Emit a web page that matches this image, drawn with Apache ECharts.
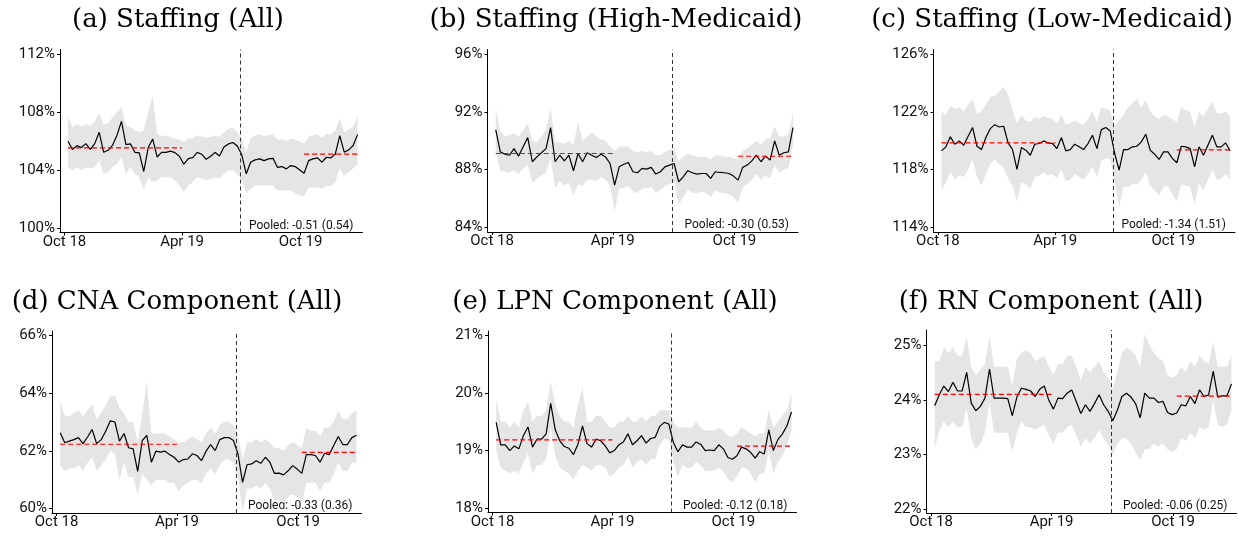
<!DOCTYPE html>
<html>
  <head>
    <meta charset="utf-8" />
    <script src="https://cdn.jsdelivr.net/npm/echarts@6/dist/echarts.min.js"></script>
  </head>
  <body style="margin: 0; background: #fff">
    <div id="container" style="width: 1239px; height: 536px"></div>
    <script type="text/javascript">
      // x axis in weeks since the first observation
      var tickPos = [-0.8, 25.6, 52.2];
      var tickLabels = ["Oct 18", "Apr 19", "Oct 19"];
      var policyWeek = 38.6;
      var preSpan = [0, 25.6];
      var postSpan = [53, 65];
      var weekIdx = [];
      for (var w = 0; w < 66; w++) weekIdx.push(w);

      var titles = [
        "(a) Staffing (All)",
        "(b) Staffing (High-Medicaid)",
        "(c) Staffing (Low-Medicaid)",
        "(d) CNA Component (All)",
        "(e) LPN Component (All)",
        "(f) RN Component (All)",
      ];
      var pooledLabels = [
        "Pooled: -0.51 (0.54)",
        "Pooled: -0.30 (0.53)",
        "Pooled: -1.34 (1.51)",
        "Pooled: -0.33 (0.36)",
        "Pooled: -0.12 (0.18)",
        "Pooled: -0.06 (0.25)",
      ];
      var preMean = [105.53, 89.12, 119.85, 62.23, 19.185, 24.1];
      var postMean = [105.09, 88.93, 119.37, 61.95, 19.076, 24.067];
      var yMin = [99.7, 83.7, 113.7, 59.85, 17.925, 21.94];
      var yMax = [112.3, 96.3, 126.3, 66.15, 21.075, 25.27];
      var yTicks = [
        [100, 104, 108, 112],
        [84, 88, 92, 96],
        [114, 118, 122, 126],
        [60, 62, 64, 66],
        [18, 19, 20, 21],
        [22, 23, 24, 25],
      ];

      // (a) Staffing (All)
      var staffAllEst = [105.98,105.41,105.68,105.55,105.82,105.43,105.82,106.6,105.22,105.36,105.71,106.4,107.36,105.75,105.8,105.22,105.18,103.9,105.55,106.14,104.9,105.22,105.22,105.3,105.2,104.95,104.4,104.79,104.86,105.22,105.09,104.74,104.95,105.22,104.97,105.59,105.8,105.9,105.65,105.05,103.74,104.54,104.7,104.77,104.65,104.77,104.81,104.19,104.24,104.08,104.31,104.24,104.01,103.78,104.65,104.77,104.84,104.54,104.88,104.84,105.11,106.37,105.23,105.39,105.69,106.44];
      var staffAllHi = [107.69,106.95,107.14,107.0,107.14,107.07,107.3,107.92,107.14,107.23,107.64,107.99,108.3,107.07,106.95,106.72,106.6,106.72,108.0,109.1,106.5,106.3,106.4,106.27,106.15,106.08,105.92,106.15,106.2,106.38,106.3,106.2,106.27,106.38,106.27,106.6,106.84,106.9,106.6,106.1,105.23,106.2,106.4,106.45,106.35,106.4,106.45,106.1,106.1,106.0,106.15,106.1,105.95,105.85,106.3,106.4,106.45,106.2,106.5,106.45,106.7,107.55,106.6,106.8,107.0,107.7];
      var staffAllLo = [104.2,103.97,104.2,104.0,104.2,104.1,104.2,104.66,103.74,103.86,104.2,104.43,104.9,103.74,104.2,103.74,103.5,102.64,103.5,103.2,103.28,103.5,103.5,103.5,103.28,102.94,102.48,102.94,103.17,103.5,103.4,103.28,103.4,103.5,103.4,103.74,103.97,103.97,103.75,103.3,102.37,102.7,102.94,102.94,102.94,102.94,102.94,102.6,102.6,102.6,102.6,102.4,102.25,102.2,102.8,102.8,102.8,102.7,102.9,102.9,103.17,104.1,103.63,103.86,104.1,104.43];

      // (b) Staffing (High-Medicaid)
      var staffHighEst = [90.77,89.23,89.07,89.0,89.46,88.94,89.58,90.22,88.55,88.89,89.17,89.46,90.91,88.55,89.0,88.61,89.0,87.93,89.12,88.55,89.17,89.0,88.84,89.07,88.89,88.43,86.94,88.2,88.38,88.5,87.86,87.79,88.09,88.04,88.16,87.7,87.86,88.2,88.32,88.43,87.17,87.51,87.93,87.79,87.7,87.74,87.74,87.4,87.86,87.81,87.79,87.74,87.56,87.28,88.16,88.32,88.61,89.0,88.55,88.94,88.66,89.99,89.0,89.17,89.23,90.91];
      var staffHighHi = [92.2,90.7,90.3,90.4,90.5,90.3,90.7,91.2,90.0,89.9,90.3,90.8,92.3,89.9,89.9,89.8,90.0,89.7,91.3,90.0,90.3,90.6,90.3,90.1,90.0,89.6,89.3,89.6,89.6,89.6,89.3,89.2,89.3,89.2,89.3,89.0,89.0,89.2,89.4,89.5,88.6,88.9,89.1,89.0,88.9,88.9,88.9,88.7,89.0,89.0,88.9,88.9,88.8,88.7,89.3,89.5,89.7,90.0,89.7,90.1,90.2,91.0,90.3,90.3,90.4,92.0];
      var staffHighLo = [89.3,87.9,87.9,87.8,88.0,87.7,88.1,88.3,87.1,87.4,87.6,87.8,88.8,86.7,87.2,86.9,87.1,86.2,87.0,86.9,87.3,87.3,87.2,87.5,87.3,86.9,85.1,86.7,86.7,86.9,86.5,86.4,86.7,86.7,86.8,86.4,86.6,86.9,87.0,87.2,85.6,86.1,86.6,86.4,86.4,86.5,86.4,86.1,86.6,86.4,86.4,86.3,86.1,85.7,86.8,87.0,87.3,87.7,87.3,87.6,87.4,88.3,87.8,88.0,88.1,89.7];

      // (c) Staffing (Low-Medicaid)
      var staffLowEst = [119.3,119.58,120.27,119.76,119.99,119.69,120.31,120.91,119.62,119.39,120.22,120.84,121.11,120.95,121.0,119.85,119.39,118.02,119.53,119.35,119.0,119.76,119.81,119.99,119.85,119.81,119.46,120.22,119.3,119.39,119.76,119.58,119.39,119.81,120.38,119.46,120.77,120.91,120.68,119.12,117.97,119.39,119.39,119.58,119.62,119.92,120.45,119.35,119.07,118.71,119.23,119.23,118.78,118.48,119.62,119.58,119.46,118.2,119.58,119.0,119.69,120.38,119.58,119.58,119.85,119.3];
      var staffLowHi = [122.0,121.8,122.4,122.2,122.3,122.0,122.5,122.9,121.9,122.0,122.5,123.0,123.1,123.4,123.7,123.2,122.1,121.2,121.8,121.4,121.3,121.6,121.5,121.7,121.6,121.5,121.2,121.8,121.1,121.2,121.4,121.2,121.1,121.5,122.0,121.3,122.3,122.2,122.1,121.0,121.4,121.8,122.3,122.6,122.9,122.3,122.8,122.0,121.7,121.5,121.8,121.7,121.5,121.3,122.3,122.1,122.0,120.9,122.0,121.7,122.2,122.7,121.9,121.9,122.0,121.7];
      var staffLowLo = [116.6,117.1,117.9,117.3,117.6,117.5,118.0,118.7,117.5,116.9,117.7,118.4,118.7,118.4,118.1,117.4,116.9,115.8,117.1,117.0,116.7,117.5,117.6,117.8,117.6,117.7,117.4,118.0,117.2,117.3,117.7,117.5,117.3,117.7,118.2,117.5,118.6,118.8,118.7,117.2,115.4,116.8,116.8,117.0,117.0,117.3,117.9,116.9,116.6,116.2,116.8,116.9,116.3,115.8,117.0,116.9,116.8,115.6,117.1,116.6,117.3,118.0,117.3,117.4,117.7,117.3];

      // (d) CNA Component (All)
      var cnaEst = [62.63,62.28,62.34,62.39,62.46,62.25,62.48,62.74,62.25,62.39,62.69,63.04,63.0,62.34,62.6,62.11,62.07,61.29,62.36,62.54,61.61,61.99,61.96,61.99,61.87,61.78,61.61,61.7,61.72,61.9,61.84,61.66,61.99,62.22,62.01,62.39,62.46,62.46,62.36,61.9,60.91,61.52,61.55,61.66,61.57,61.78,61.61,61.22,61.23,61.17,61.31,61.49,61.37,61.22,61.87,61.87,61.84,61.61,61.92,61.87,62.19,62.5,62.22,62.22,62.46,62.54];
      var cnaHi = [63.7,63.2,63.2,63.3,63.4,63.2,63.4,63.6,63.1,63.3,63.6,63.9,63.9,63.5,63.3,63.0,63.0,62.3,63.3,64.4,62.6,62.6,62.6,62.6,62.5,62.4,62.3,62.3,62.4,62.5,62.4,62.3,62.6,62.8,62.6,62.9,63.0,63.0,62.9,62.6,61.7,62.3,62.3,62.4,62.3,62.4,62.3,62.1,62.1,62.0,62.2,62.3,62.2,62.1,62.8,62.7,62.7,62.5,62.8,62.8,63.0,63.4,63.1,63.1,63.3,63.4];
      var cnaLo = [61.5,61.3,61.4,61.4,61.5,61.3,61.6,61.8,61.3,61.5,61.7,62.0,61.9,61.0,61.6,61.1,61.1,60.5,61.2,61.0,60.8,61.0,61.0,61.0,60.9,60.9,60.6,60.8,60.9,61.0,61.0,60.9,61.2,61.4,61.2,61.5,61.7,61.7,61.6,61.1,59.9,60.7,60.7,60.8,60.7,60.9,60.7,60.3,60.3,60.2,60.4,60.5,60.4,60.2,60.9,60.9,60.9,60.6,60.9,60.9,61.2,61.6,61.3,61.3,61.6,61.6];

      // (e) LPN Component (All)
      var lpnEst = [19.49,19.1,19.1,19.0,19.08,19.03,19.26,19.41,19.06,19.2,19.2,19.29,19.82,19.36,19.17,19.07,19.04,18.93,19.11,19.43,19.12,19.06,19.2,19.17,19.08,18.96,19.0,19.1,19.15,19.29,19.1,19.17,19.26,19.13,19.21,19.23,19.42,19.49,19.46,19.14,18.98,19.1,19.06,19.06,19.15,19.11,19.0,19.01,19.0,19.1,19.03,18.88,18.85,18.91,19.06,19.03,18.97,18.87,18.98,18.94,19.36,19.0,19.19,19.29,19.43,19.67];
      var lpnHi = [19.9,19.5,19.5,19.4,19.5,19.4,19.7,19.85,19.5,19.6,19.6,19.7,20.2,19.8,19.6,19.5,19.5,19.4,19.8,20.1,19.5,19.5,19.6,19.6,19.5,19.4,19.4,19.5,19.5,19.6,19.5,19.5,19.6,19.5,19.6,19.6,19.7,19.7,19.7,19.5,19.4,19.4,19.4,19.4,19.5,19.4,19.35,19.35,19.35,19.4,19.35,19.25,19.25,19.3,19.4,19.35,19.3,19.25,19.3,19.3,19.7,19.4,19.5,19.6,19.7,20.0];
      var lpnLo = [19.0,18.7,18.65,18.6,18.65,18.6,18.8,18.95,18.6,18.75,18.75,18.85,19.4,18.9,18.7,18.65,18.6,18.5,18.65,18.75,18.7,18.65,18.75,18.75,18.7,18.55,18.6,18.7,18.75,18.9,18.7,18.8,18.85,18.75,18.85,18.85,19.1,19.2,19.2,18.8,18.55,18.75,18.7,18.7,18.8,18.75,18.65,18.65,18.65,18.7,18.65,18.5,18.45,18.55,18.7,18.7,18.6,18.45,18.6,18.6,19.0,18.6,18.8,18.9,19.1,19.35];

      // (f) RN Component (All)
      var rnEst = [23.89,24.09,24.25,24.15,24.32,24.16,24.16,24.5,23.94,23.8,23.88,24.03,24.56,24.03,24.03,24.03,24.02,23.71,24.05,24.21,24.19,24.16,24.06,24.19,24.25,23.99,23.83,24.03,24.02,24.12,24.18,23.97,23.75,23.91,23.79,23.93,24.09,23.91,23.79,23.62,23.81,24.06,24.12,24.05,23.93,23.67,24.12,24.03,24.03,23.95,23.97,23.77,23.73,23.76,23.91,23.89,24.06,23.93,24.18,24.06,24.09,24.52,24.05,24.07,24.07,24.29];
      var rnHi = [24.7,24.7,24.95,24.85,24.95,24.8,24.8,25.15,24.6,24.45,24.55,24.65,25.15,24.6,24.6,24.6,24.6,24.25,24.75,24.85,24.9,24.85,24.7,24.75,24.8,24.6,24.45,24.65,24.65,24.8,24.8,24.6,24.35,24.6,24.5,24.6,24.7,24.5,24.4,24.2,24.5,24.85,24.95,24.9,24.8,24.6,25.2,25.0,24.85,24.75,24.7,24.45,24.4,24.45,24.6,24.5,24.7,24.6,24.8,24.7,24.65,25.05,24.6,24.6,24.6,24.8];
      var rnLo = [23.1,23.45,23.6,23.5,23.6,23.5,23.5,23.85,23.3,23.1,23.2,23.4,23.95,23.4,23.4,23.4,23.4,23.05,23.4,23.6,23.5,23.5,23.45,23.5,23.55,23.35,23.2,23.4,23.4,23.5,23.55,23.35,23.15,23.3,23.2,23.3,23.45,23.3,23.2,23.0,23.2,23.3,23.3,23.2,23.05,22.9,23.1,23.1,23.2,23.15,23.2,23.1,23.05,23.1,23.3,23.25,23.4,23.3,23.5,23.45,23.5,24.0,23.55,23.5,23.55,23.8];

      var estimates = [staffAllEst, staffHighEst, staffLowEst, cnaEst, lpnEst, rnEst];
      var uppers = [staffAllHi, staffHighHi, staffLowHi, cnaHi, lpnHi, rnHi];
      var lowers = [staffAllLo, staffHighLo, staffLowLo, cnaLo, lpnLo, rnLo];

      // panel boxes in pixels: [left, top, right, bottom]
      var boxes = [
        [60, 49.5, 362.5, 232.5],
        [487.5, 49.5, 798, 232],
        [933.5, 49.5, 1235, 232],
        [52, 331, 361.5, 513],
        [488, 331, 796.5, 512.5],
        [926.5, 330, 1236.5, 513],
      ];
      var titleCenters = [
        [178, 20], [616, 20], [1052, 20],
        [177, 302], [615, 302], [1051, 302],
      ];

      var myChart = echarts.init(document.getElementById("container"), null, {
        renderer: "canvas",
      });

      function bandRenderer(lo, hi) {
        return function (params, api) {
          if (params.dataIndex !== 0) return;
          var pts = [];
          for (var i = 0; i < hi.length; i++) pts.push(api.coord([weekIdx[i], hi[i]]));
          for (var j = lo.length - 1; j >= 0; j--) pts.push(api.coord([weekIdx[j], lo[j]]));
          return {
            type: "polygon",
            shape: { points: pts },
            style: { fill: "#e5e5e5" },
          };
        };
      }

      function tickLabel(v) {
        for (var i = 0; i < tickPos.length; i++) {
          if (Math.abs(tickPos[i] - v) < 0.01) return tickLabels[i];
        }
        return "";
      }

      var grids = [], xAxes = [], yAxes = [], series = [], graphics = [];
      var axisText = { color: "#111", fontFamily: "Roboto", fontSize: 15 };

      for (var p = 0; p < 6; p++) {
        var b = boxes[p];
        grids.push({
          left: b[0],
          top: b[1],
          width: b[2] - b[0],
          height: b[3] - b[1],
          containLabel: false,
        });
        xAxes.push({
          type: "value",
          gridIndex: p,
          min: -1.8,
          max: 66.1,
          axisLine: { show: true, onZero: false, lineStyle: { color: "#000", width: 1 } },
          axisTick: { show: true, length: 3, customValues: tickPos, lineStyle: { color: "#000" } },
          axisLabel: Object.assign({ margin: 2, customValues: tickPos, formatter: tickLabel }, axisText),
          splitLine: { show: false },
        });
        yAxes.push({
          type: "value",
          gridIndex: p,
          min: yMin[p],
          max: yMax[p],
          axisLine: { show: true, onZero: false, lineStyle: { color: "#000", width: 1 } },
          axisTick: { show: true, length: 3, customValues: yTicks[p], lineStyle: { color: "#000" } },
          axisLabel: Object.assign(
            { margin: 5, customValues: yTicks[p], formatter: function (v) { return Math.round(v) + "%"; } },
            axisText
          ),
          splitLine: { show: false },
        });

        series.push({
          type: "custom",
          xAxisIndex: p,
          yAxisIndex: p,
          silent: true,
          clip: true,
          renderItem: bandRenderer(lowers[p], uppers[p]),
          encode: { x: 0, y: [1, 2] },
          data: weekIdx.map(function (x, i) { return [x, lowers[p][i], uppers[p][i]]; }),
          z: 1,
        });
        series.push({
          type: "line",
          xAxisIndex: p,
          yAxisIndex: p,
          silent: true,
          symbol: "none",
          lineStyle: { color: "#000", width: 1.2 },
          data: weekIdx.map(function (x, i) { return [x, estimates[p][i]]; }),
          markLine: {
            silent: true,
            symbol: ["none", "none"],
            label: { show: false },
            lineStyle: { color: "#333", type: [4, 3], width: 1 },
            data: [{ xAxis: policyWeek }],
          },
          z: 3,
        });
        series.push({
          type: "line",
          xAxisIndex: p,
          yAxisIndex: p,
          silent: true,
          symbol: "none",
          lineStyle: { color: "#ff0000", type: [5, 3], width: 1.2 },
          data: [[preSpan[0], preMean[p]], [preSpan[1], preMean[p]]],
          z: 4,
        });
        series.push({
          type: "line",
          xAxisIndex: p,
          yAxisIndex: p,
          silent: true,
          symbol: "none",
          lineStyle: { color: "#ff0000", type: [5, 3], width: 1.2 },
          data: [[postSpan[0], postMean[p]], [postSpan[1], postMean[p]]],
          z: 4,
        });

        graphics.push({
          type: "text",
          x: titleCenters[p][0],
          y: titleCenters[p][1],
          style: {
            text: titles[p],
            textAlign: "center",
            textVerticalAlign: "middle",
            align: "center",
            verticalAlign: "middle",
            font: "normal 26px 'DejaVu Serif'",
            fill: "#000",
          },
        });
        graphics.push({
          type: "text",
          x: b[2] - 9,
          y: b[3] - 7,
          style: {
            text: pooledLabels[p],
            textAlign: "right",
            textVerticalAlign: "middle",
            align: "right",
            verticalAlign: "middle",
            font: "normal 12px Roboto",
            fill: "#111",
          },
        });
      }

      var option = {
        animation: false,
        backgroundColor: "#fff",
        grid: grids,
        xAxis: xAxes,
        yAxis: yAxes,
        series: series,
        graphic: graphics,
      };

      myChart.setOption(option);
    </script>
  </body>
</html>
